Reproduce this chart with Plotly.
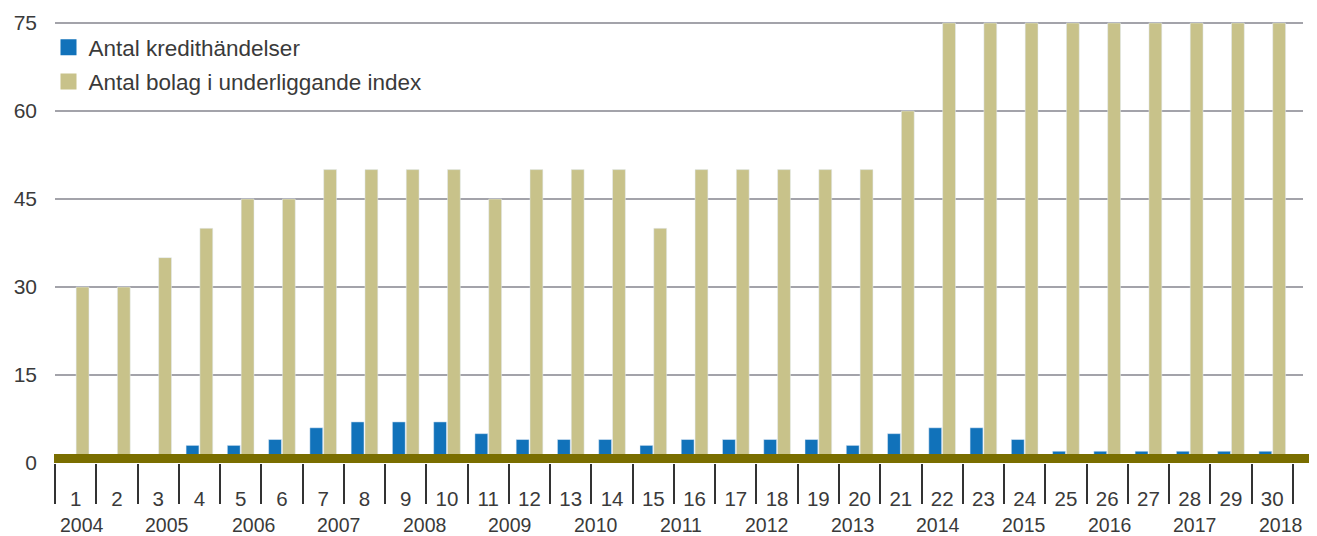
import plotly.graph_objects as go

periods = [str(i) for i in range(1, 31)]
credit_events = [0, 0, 0, 3, 3, 4, 6, 7, 7, 7, 5, 4, 4, 4, 3, 4, 4, 4, 4, 3, 5, 6, 6, 4, 2, 2, 2, 2, 2, 2]
index_companies = [30, 30, 35, 40, 45, 45, 50, 50, 50, 50, 45, 50, 50, 50, 40, 50, 50, 50, 50, 50, 60, 75, 75, 75, 75, 75, 75, 75, 75, 75]
years = [str(y) for y in range(2004, 2019)]
y_ticks = [0, 15, 30, 45, 60, 75]

BLUE = "#1172BA"
TAN = "#C8C28A"
OLIVE = "#7A6E00"
TEXT = "#3a3a3a"
FONT = "Liberation Sans"

fig = go.Figure()
fig.add_trace(go.Bar(x=periods, y=credit_events, marker_color=BLUE, showlegend=False,
                     name="Antal kredithändelser"))
fig.add_trace(go.Bar(x=periods, y=index_companies, marker_color=TAN, showlegend=False,
                     name="Antal bolag i underliggande index"))
# legend entries
fig.add_trace(go.Scatter(x=[None], y=[None], mode="markers", name="Antal kredithändelser",
                         marker=dict(symbol="square", size=16, color=BLUE), legendgroup="a"))
fig.add_trace(go.Scatter(x=[None], y=[None], mode="markers", name="Antal bolag i underliggande index",
                         marker=dict(symbol="square", size=16, color=TAN), legendgroup="b"))

W, H = 1317, 536
L, R, T, B = 55, 14, 20, 73
pw = W - L - R
ph = H - T - B

annotations = []
for k, yr in enumerate(years):
    annotations.append(dict(x=0.15 + k * 2.075, y=(-(524.5 - (T + ph)) / ph), xref="x", yref="paper",
                            text=yr, showarrow=False, xanchor="center", yanchor="middle",
                            borderpad=0, font=dict(family=FONT, size=19.5, color=TEXT)))

fig.update_layout(
    width=W, height=H,
    margin=dict(l=L, r=R, t=T, b=B, autoexpand=False),
    paper_bgcolor="white", plot_bgcolor="white",
    barmode="group", bargap=0.33, bargroupgap=0.07,
    font=dict(family=FONT, size=20, color=TEXT),
    legend=dict(x=-6.5 / pw, y=(T + ph - 26) / ph, xanchor="left", yanchor="top",
                bgcolor="rgba(0,0,0,0)", font=dict(family=FONT, size=22.5, color=TEXT),
                tracegroupgap=2),
    annotations=annotations,
    shapes=[dict(type="line", xref="paper", yref="y", x0=-1 / pw, x1=1 + 6 / pw, y0=0, y1=0,
                 line=dict(color=OLIVE, width=18), layer="above")],
)
fig.update_xaxes(type="category", tickson="boundaries", ticks="outside", ticklen=40, tickwidth=2,
                 tickcolor="#333333", showgrid=False, showline=False, zeroline=False, automargin=False,
                 tickfont=dict(family=FONT, size=20.5, color=TEXT), ticklabelstandoff=21)
fig.update_yaxes(range=[0, 75.5], tickvals=y_ticks, showgrid=True, gridcolor="#a3a3aa", gridwidth=1.5,
                 zeroline=False, showline=False, ticks="", ticklabelstandoff=17, automargin=False,
                 tickfont=dict(family=FONT, size=21, color=TEXT))

fig.write_html("out.html", config={"displayModeBar": False},
               post_script="document.body.style.margin='0';")
